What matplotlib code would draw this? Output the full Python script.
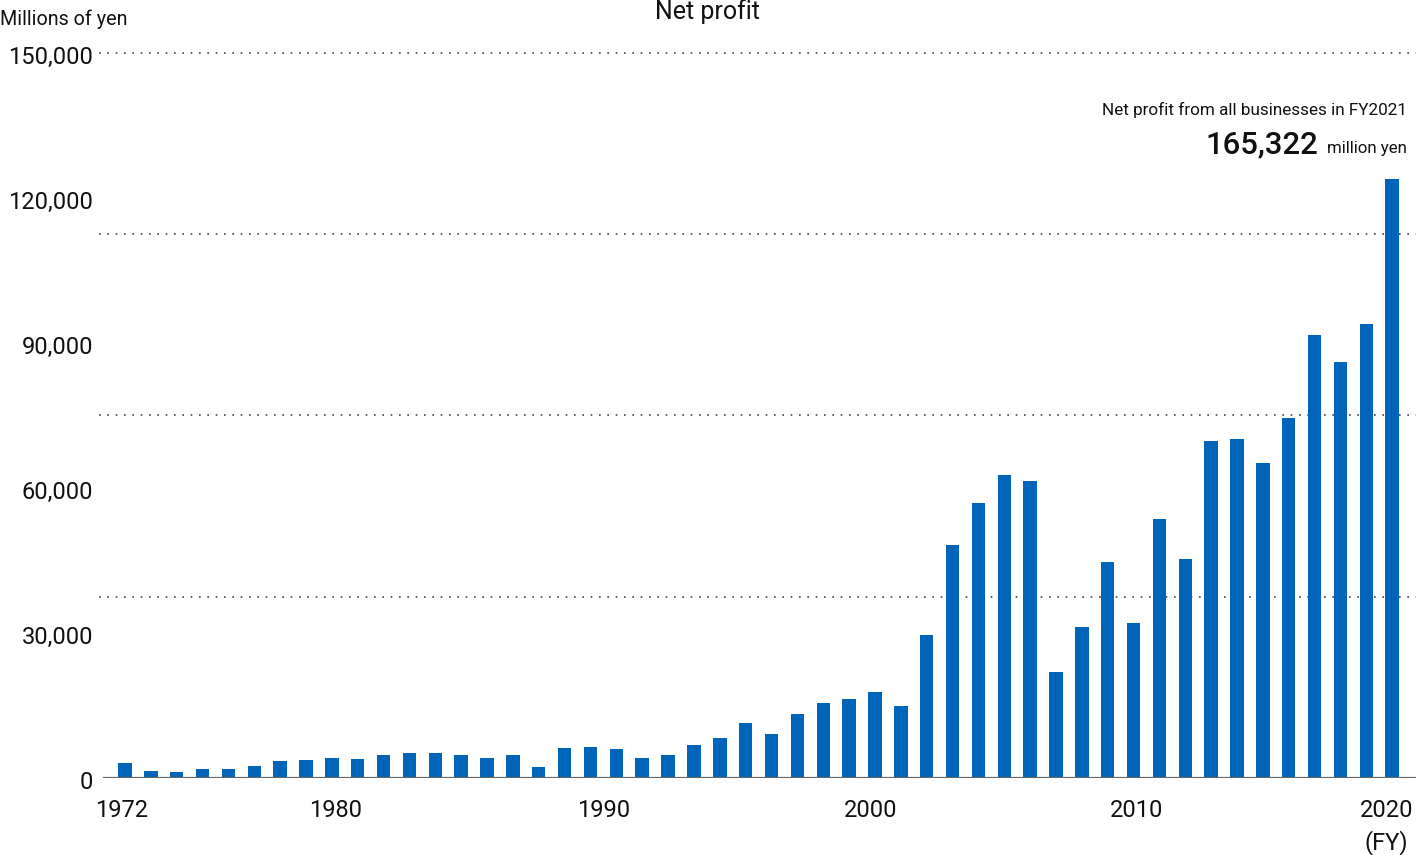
import matplotlib.pyplot as plt
from matplotlib.transforms import ScaledTranslation

plt.rcParams['font.family'] = ['Roboto', 'DejaVu Sans']

# Data (millions of yen)

years = list(range(1972, 2022))
net_profit = [2980, 1390, 1110, 1860, 1800, 2480, 3390, 3720, 4080, 3870,
              4700, 5170, 5110, 4700, 4010, 4700, 2280, 6210, 6350, 5940,
              4010, 4700, 6700, 8200, 11380, 9100, 13240, 15520, 16260, 17800,
              14900, 29590, 48150, 56840, 62630, 61330, 21810, 31120, 44690, 32010,
              53460, 45190, 69730, 70080, 65180, 74480, 91660, 86010, 93930, 124020]

tick_years = [1972, 1980, 1990, 2000, 2010, 2020]
tick_shift = [-0.12, 0.16, 0.52, 0.85, 1.13, 0.8]
y_ticks = [0, 30000, 60000, 90000, 120000, 150000]
grid_levels = [37500, 75000, 112500, 150000]

BAR_COLOR = "#0065b8"

# Figure setup:

fig = plt.figure(figsize=(14.18, 8.55), dpi=100)
ax = fig.add_axes([103 / 1418, 77.3 / 855, 1313 / 1418, 724.7 / 855])

ax.bar(years, net_profit, width=0.52, color=BAR_COLOR, zorder=3)

for level in grid_levels:
    ax.axhline(level, xmin=-0.003, color="#444444", linewidth=1.2,
               linestyle=(0, (1, 4)), zorder=1, clip_on=False)
ax.axhline(0, color="#666666", linewidth=1.6, zorder=4)

ax.set_xlim(1971.15, 2021.92)
ax.set_ylim(0, 150000)

for side in ["top", "right", "left", "bottom"]:
    ax.spines[side].set_visible(False)

ax.set_xticks([year + shift for year, shift in zip(tick_years, tick_shift)])
ax.set_xticklabels([str(year) for year in tick_years])
ax.set_yticks(y_ticks)
ax.set_yticklabels([f"{value:,}" for value in y_ticks])
ax.tick_params(axis="x", length=0, pad=15, labelsize=17, colors="#111111")
ax.tick_params(axis="y", length=0, pad=7, labelsize=17, colors="#111111")

# Y labels sit a couple of pixels under their values in the original
shift_down = ScaledTranslation(0, -2 / 100, fig.dpi_scale_trans)
for label in ax.get_yticklabels():
    label.set_transform(label.get_transform() + shift_down)

# Texts:

fig.text(0.0, 1 - 19 / 855, "Millions of yen", fontsize=14.2, va="center",
         ha="left", color="#111111")
fig.text(707 / 1418, 1 - 12 / 855, "Net profit", fontsize=18, va="center",
         ha="center", color="#111111")
fig.text(1407 / 1418, 1 - 110 / 855, "Net profit from all businesses in FY2021",
         fontsize=12.3, va="center", ha="right", color="#111111")
fig.text(1318 / 1418, 1 - 153 / 855, "165,322", fontsize=22.4, weight="medium",
         va="baseline", ha="right", color="#111111")
fig.text(1407 / 1418, 1 - 153 / 855, "million yen", fontsize=12.2,
         va="baseline", ha="right", color="#111111")
fig.text(1408 / 1418, 1 - 843 / 855, "(FY)", fontsize=17, va="center",
         ha="right", color="#111111")

fig.savefig("out.png", dpi=100)
